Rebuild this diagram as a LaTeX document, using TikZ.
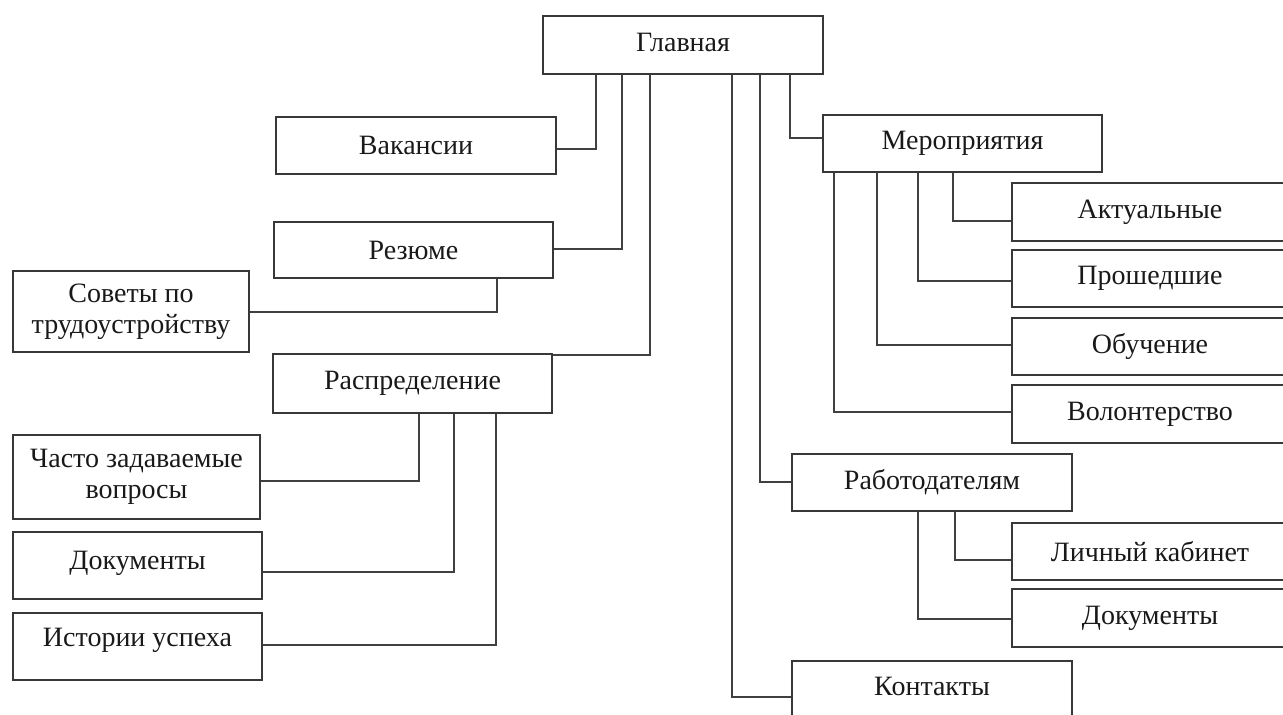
\documentclass[tikz,border=0pt]{standalone}
\usepackage{fontspec}
\setmainfont{Liberation Serif}
\begin{document}
\begin{tikzpicture}[x=0.5pt,y=-0.5pt,
  box/.style={draw=black!78,line width=1.1pt,rectangle,inner sep=0pt,align=center,
    font=\fontsize{14}{15.5}\selectfont,text=black!90},
  link/.style={draw=black!75,line width=1.1pt}]
\useasboundingbox (0,0) rectangle (1283,715);
\clip (0,0) rectangle (1283,715);
% boxes
\node[box,minimum width=140pt,minimum height=29pt,text depth=3pt] (glav) at (683,45) {Главная};
\node[box,minimum width=140pt,minimum height=28.5pt] (vak) at (416,145.5) {Вакансии};
\node[box,minimum width=139.5pt,minimum height=28pt] (rez) at (413.5,250) {Резюме};
\node[box,minimum width=118pt,minimum height=40.5pt] (sov) at (131,311.5) {Советы по\\трудоустройству};
\node[box,minimum width=139.5pt,minimum height=29.5pt] (raspr) at (412.5,383.5) {Распределение};
\node[box,minimum width=123.5pt,minimum height=42pt] (chasto) at (136.5,477) {Часто задаваемые\\вопросы};
\node[box,minimum width=124.5pt,minimum height=33.5pt,text depth=5pt] (docL) at (137.5,565.5) {Документы};
\node[box,minimum width=124.5pt,minimum height=33.5pt,text depth=9pt] (ist) at (137.5,646.5) {Истории успеха};
\node[box,minimum width=139.5pt,minimum height=28.5pt] (mer) at (962.5,143.5) {Мероприятия};
\node[box,minimum width=138pt,minimum height=29pt] (akt) at (1150,212) {Актуальные};
\node[box,minimum width=138pt,minimum height=28.5pt] (pro) at (1150,278.5) {Прошедшие};
\node[box,minimum width=138pt,minimum height=28.5pt] (obu) at (1150,346.5) {Обучение};
\node[box,minimum width=138pt,minimum height=29pt] (vol) at (1150,414) {Волонтерство};
\node[box,minimum width=140pt,minimum height=28.5pt] (rab) at (932,482.5) {Работодателям};
\node[box,minimum width=138pt,minimum height=28.5pt] (lk) at (1150,551.5) {Личный кабинет};
\node[box,minimum width=138pt,minimum height=29pt] (docR) at (1150,618) {Документы};
\node[box,minimum width=140pt,minimum height=30pt,text depth=5pt] (kon) at (932,691) {Контакты};
% turning points
\coordinate (c1) at (596,149);
\coordinate (c2) at (622,249);
\coordinate (c3) at (497,312);
\coordinate (c4) at (650,355);
\coordinate (c5) at (419,481);
\coordinate (c6) at (454,572);
\coordinate (c7) at (496,645);
\coordinate (c8) at (790,138);
\coordinate (c9) at (953,221);
\coordinate (c10) at (918,281);
\coordinate (c11) at (877,345);
\coordinate (c12) at (834,412);
\coordinate (c13) at (760,482);
\coordinate (c14) at (955,560);
\coordinate (c15) at (918,619);
\coordinate (c16) at (732,697);
% connectors
\draw[link] (glav.south -| c1) -- (c1) -- (vak.east |- c1);
\draw[link] (glav.south -| c2) -- (c2) -- (rez.east |- c2);
\draw[link] (rez.south -| c3) -- (c3) -- (sov.east |- c3);
\draw[link] (glav.south -| c4) -- (c4) -- (raspr.east |- c4);
\draw[link] (raspr.south -| c5) -- (c5) -- (chasto.east |- c5);
\draw[link] (raspr.south -| c6) -- (c6) -- (docL.east |- c6);
\draw[link] (raspr.south -| c7) -- (c7) -- (ist.east |- c7);
\draw[link] (glav.south -| c8) -- (c8) -- (mer.west |- c8);
\draw[link] (mer.south -| c9) -- (c9) -- (akt.west |- c9);
\draw[link] (mer.south -| c10) -- (c10) -- (pro.west |- c10);
\draw[link] (mer.south -| c11) -- (c11) -- (obu.west |- c11);
\draw[link] (mer.south -| c12) -- (c12) -- (vol.west |- c12);
\draw[link] (glav.south -| c13) -- (c13) -- (rab.west |- c13);
\draw[link] (rab.south -| c14) -- (c14) -- (lk.west |- c14);
\draw[link] (rab.south -| c15) -- (c15) -- (docR.west |- c15);
\draw[link] (glav.south -| c16) -- (c16) -- (kon.west |- c16);
\end{tikzpicture}
\end{document}
